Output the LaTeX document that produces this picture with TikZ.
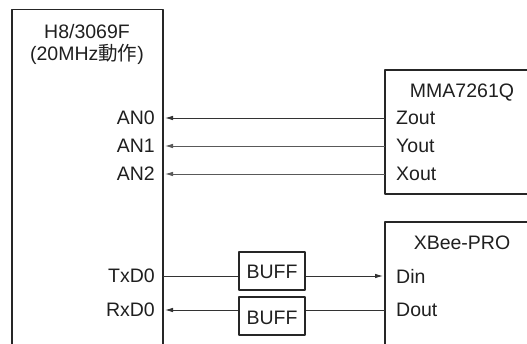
\documentclass[tikz,border=0pt]{standalone}
\usepackage{fontspec}
\setmainfont{Liberation Sans}
\newfontfamily\jpfont{Noto Sans CJK JP}
\usetikzlibrary{arrows.meta}

\tikzset{
  blk/.style={draw=black!85, line width=1.6pt},
  sig/.style={draw=black!80, line width=0.9pt, -{Latex[length=8pt,width=4.6pt]}},
  wire/.style={draw=black!80, line width=0.9pt},
  lbl/.style={inner sep=0pt, text=black!88, font=\fontsize{19.5}{23}\selectfont}
}

\begin{document}
\begin{tikzpicture}[x=1pt, y=-1pt, line join=round]
\useasboundingbox (0,0) rectangle (527,344);

% pins on the box edges
\coordinate (h8an0) at (163,118);
\coordinate (h8an1) at (163,146);
\coordinate (h8an2) at (163,174);
\coordinate (h8txd) at (163,276);
\coordinate (h8rxd) at (163,310);
\coordinate (mmaz) at (385,118);
\coordinate (mmay) at (385,146);
\coordinate (mmax) at (385,174);
\coordinate (xbdin) at (385,276);
\coordinate (xbdout) at (385,310);

% Boxes (open to the edge of the page)
\draw[blk] (12,350) -- (12,9.5) -- (163,9.5) -- (163,350);
\draw[blk] (530,70) -- (385,70) -- (385,194) -- (530,194);
\draw[blk] (530,222) -- (385,222) -- (385,350);
\node[blk, lbl, minimum width=66pt, minimum height=38pt] (buffa) at (272,271) {};
\node[blk, lbl, minimum width=66pt, minimum height=38pt] (buffb) at (272,316) {};
\node[lbl] at (272,272) {BUFF};
\node[lbl] at (272,318) {BUFF};

% Titles
\node[lbl] (h8name) at (87,32) {H8/3069F};
\node[lbl] (h8clk) at (87,54) {(20MHz{\jpfont 動作})};
\node[lbl] (mmaname) at (462,93) {MMA7261Q};
\node[lbl] (xbname) at (462,243) {XBee-PRO};

% Pin names
\node[lbl, anchor=east] (an0) at ([xshift=-8pt]h8an0) {AN0};
\node[lbl, anchor=east] (an1) at ([xshift=-8pt]h8an1) {AN1};
\node[lbl, anchor=east] (an2) at ([xshift=-8pt]h8an2) {AN2};
\node[lbl, anchor=east] (txd) at ([xshift=-8pt]h8txd) {TxD0};
\node[lbl, anchor=east] (rxd) at ([xshift=-8pt]h8rxd) {RxD0};
\node[lbl, anchor=west] (zout) at ([xshift=11pt]mmaz) {Zout};
\node[lbl, anchor=west] (yout) at ([xshift=11pt]mmay) {Yout};
\node[lbl, anchor=west] (xout) at ([xshift=11pt]mmax) {Xout};
\node[lbl, anchor=west] (din) at ([xshift=11pt]xbdin) {Din};
\node[lbl, anchor=west] (dout) at ([xshift=11pt]xbdout) {Dout};

% Signals
\draw[sig] (mmaz) -- ([xshift=2pt]h8an0);
\draw[sig, draw=black!65] (mmay) -- ([xshift=2pt]h8an1);
\draw[sig, draw=black!65] (mmax) -- ([xshift=2pt]h8an2);
\draw[wire] (h8txd) -- (buffa.west |- h8txd);
\draw[sig] (buffa.east |- xbdin) -- ([xshift=-2pt]xbdin);
\draw[wire] (xbdout) -- (buffb.east |- xbdout);
\draw[sig] (buffb.west |- h8rxd) -- ([xshift=2pt]h8rxd);

\end{tikzpicture}
\end{document}
